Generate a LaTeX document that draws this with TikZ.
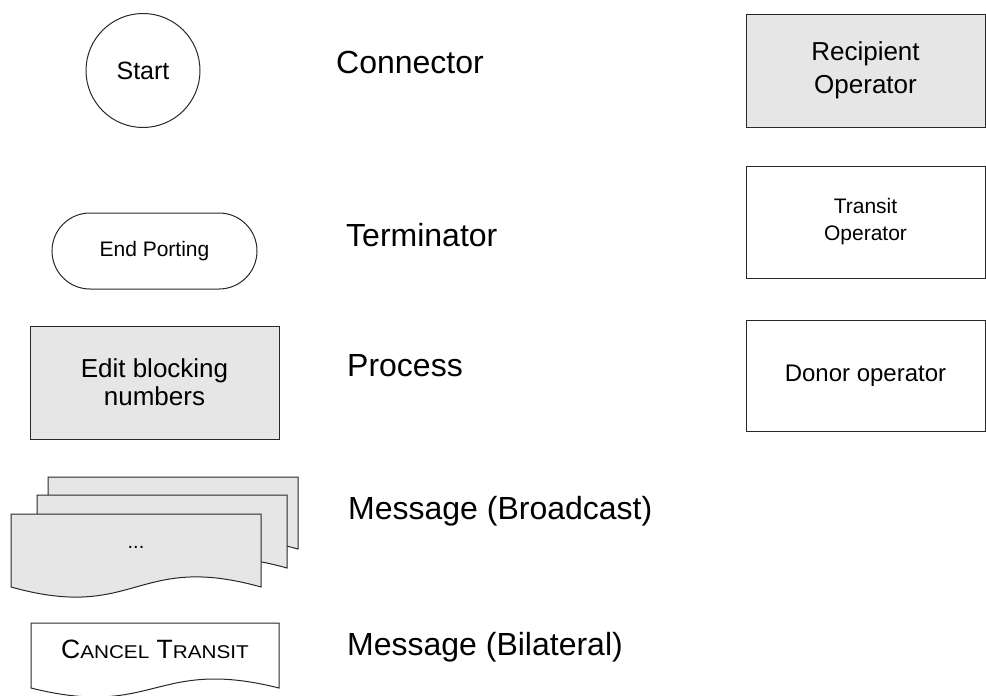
\documentclass[tikz,border=0pt]{standalone}
\usepackage{fontspec}
\setmainfont{Liberation Sans}
\newfontfamily\widesc[FakeStretch=1.12]{Liberation Sans}
\newcommand{\fs}[2]{\fontsize{#1}{#2}\selectfont}
\definecolor{shapefill}{RGB}{230,230,230}
\definecolor{shapeline}{RGB}{40,40,40}
\tikzset{
  outline/.style={draw=shapeline, line width=1pt},
  shaded/.style={outline, fill=shapefill},
  legend/.style={anchor=base west, inner sep=0pt, font=\fs{32}{38}},
  boxnode/.style={outline, rectangle, inner sep=0pt, align=center},
  % document-like sheet with a wavy bottom edge; args: width/height/style
  pics/docsheet/.style args={#1/#2/#3}{code={
    \draw[#3] (0,0) -- (#1,0) -- (#1,#2)
      .. controls (0.5*#1,#2-0.48*#2) and (0.5*#1,#2+0.48*#2) .. (0,#2) -- cycle;
  }},
}
\begin{document}
\begin{tikzpicture}[x=1pt, y=-1pt]
\useasboundingbox (0,0) rectangle (986,696);

% left column of symbols
\node[outline, circle, minimum size=114pt, inner sep=0pt, font=\fs{25}{30}]
  (start) at (143,70.5) {Start};

\node[boxnode, rounded corners=38pt, minimum width=205pt, minimum height=76pt,
  font=\fs{21}{25}] (endp) at (154.5,251) {End Porting};

\node[boxnode, fill=shapefill, minimum width=249pt, minimum height=113pt,
  font=\fs{26}{28}] (proc) at (154.5,382.5) {Edit blocking\\numbers};

% stacked broadcast sheets, back to front
\pic at (48,477) {docsheet=250/72/shaded};
\pic at (37,495) {docsheet=250/73/shaded};
\pic at (11,514) {docsheet=250/73/shaded};
\node[inner sep=0pt, font=\fs{20}{24}] (dots) at (136,547) {...};

% bilateral message sheet
\pic at (31,623) {docsheet=248/65/{outline, fill=white}};
\node[anchor=base, inner sep=0pt] (cancel) at (155,658)
  {\fs{26.5}{30}C{\widesc\fs{18.5}{22}ANCEL} T{\widesc\fs{18.5}{22}RANSIT}};

% legend labels
\node[legend] (lconn) at (336,73) {Connector};
\node[legend] (lterm) at (346,246) {Terminator};
\node[legend] (lproc) at (347,376) {Process};
\node[legend] (lbroad) at (348,519) {Message (Broadcast)};
\node[legend] (lbilat) at (347,655) {Message (Bilateral)};

% operator boxes on the right
\node[boxnode, fill=shapefill, minimum width=239pt, minimum height=113pt,
  font=\fs{26}{33}] (recip) at (865.5,70.5) {Recipient\\Operator};
\node[boxnode, minimum width=239pt, minimum height=112pt,
  font=\fs{21}{27}] (transit) at (865.5,222) {Transit\\Operator};
\node[boxnode, minimum width=239pt, minimum height=111pt,
  font=\fs{24}{28}] (donor) at (865.5,375.5) {Donor operator};
\end{tikzpicture}
\end{document}
